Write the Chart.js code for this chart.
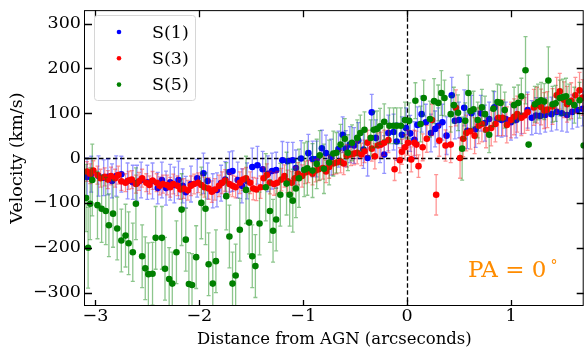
<!DOCTYPE html>
<html>
<head>
<meta charset="utf-8">
<script src="https://cdn.jsdelivr.net/npm/chart.js@4.4.0/dist/chart.umd.min.js"></script>
<style>
  html, body { margin: 0; padding: 0; background: #fff; }
  #wrap { width: 587px; height: 353px; }
</style>
</head>
<body>
<div id="wrap"><canvas id="velChart" width="587" height="353"></canvas></div>
<script>
  /**************Data**************/
  let seriesNames = ['S(1)', 'S(3)', 'S(5)'];
  let xTicks = [-3, -2, -1, 0, 1];
  let yTicks = [-300, -200, -100, 0, 100, 200, 300];

  // S(1)
  let s1X = [-3.08,-3.04,-2.97,-2.92,-2.88,-2.84,-2.80,-2.75,-2.69,-2.64,
             -2.60,-2.56,-2.50,-2.45,-2.40,-2.36,-2.32,-2.28,-2.24,-2.20,
             -2.16,-2.13,-2.08,-2.02,-1.96,-1.92,-1.87,-1.83,-1.79,-1.75,
             -1.71,-1.68,-1.63,-1.59,-1.54,-1.49,-1.44,-1.39,-1.34,-1.30,
             -1.26,-1.20,-1.15,-1.10,-1.07,-1.02,-0.95,-0.91,-0.87,-0.82,
             -0.78,-0.73,-0.66,-0.62,-0.59,-0.55,-0.51,-0.47,-0.42,-0.38,
             -0.34,-0.30,-0.26,-0.22,-0.18,-0.13,-0.10,-0.05,-0.01,0.03,
             0.07,0.10,0.14,0.18,0.23,0.27,0.30,0.34,0.38,0.43,
             0.46,0.50,0.55,0.58,0.62,0.66,0.71,0.75,0.79,0.84,
             0.87,0.91,0.95,1.00,1.05,1.10,1.16,1.20,1.24,1.28,
             1.33,1.39,1.44,1.49,1.54,1.59,1.64,1.69];
  let s1Y = [-42,-36,-40,-44,-42,-51,-40,-36,-51,-54,
             -56,-49,-54,-51,-67,-49,-67,-54,-60,-49,
             -62,-76,-58,-45,-34,-51,-73,-71,-56,-48,
             -31,-29,-49,-62,-51,-20,-16,-25,-35,-29,
             -27,-5,-7,-5,-22,-1,11,-2,-2,22,
             11,2,20,52,21,30,28,39,19,0,
             102,45,30,8,56,58,37,52,67,55,
             41,74,98,80,56,65,72,80,50,140,
             83,85,112,61,100,64,100,78,87,113,
             87,85,87,80,85,94,107,90,95,94,
             96,98,103,100,96,103,107,110];
  let s1Err = [42,40,45,40,40,38,45,40,40,38,
               40,40,38,40,35,40,38,40,40,42,
               38,35,40,42,45,40,38,38,40,40,
               45,45,40,38,40,42,42,40,40,40,
               40,42,42,40,40,40,42,40,40,40,
               40,40,40,40,40,40,40,40,42,40,
               40,40,40,42,40,40,42,40,45,40,
               40,40,40,40,42,40,40,40,42,40,
               40,40,40,40,40,40,40,40,38,35,
               38,38,38,40,40,40,40,38,40,40,
               38,38,40,40,38,38,38,38];

  // S(3)
  let s3X = [-3.08,-3.05,-3.02,-2.98,-2.95,-2.91,-2.88,-2.85,-2.81,-2.78,
             -2.75,-2.71,-2.68,-2.65,-2.61,-2.58,-2.55,-2.51,-2.48,-2.45,
             -2.41,-2.38,-2.35,-2.31,-2.28,-2.25,-2.21,-2.18,-2.15,-2.11,
             -2.08,-2.05,-2.01,-1.98,-1.95,-1.91,-1.88,-1.85,-1.81,-1.78,
             -1.75,-1.71,-1.68,-1.65,-1.61,-1.58,-1.55,-1.51,-1.48,-1.45,
             -1.41,-1.38,-1.35,-1.32,-1.28,-1.25,-1.21,-1.18,-1.15,-1.11,
             -1.08,-1.05,-1.01,-0.98,-0.95,-0.91,-0.88,-0.85,-0.81,-0.78,
             -0.75,-0.71,-0.68,-0.64,-0.61,-0.58,-0.54,-0.51,-0.48,-0.44,
             -0.41,-0.38,-0.34,-0.31,-0.28,-0.25,-0.22,-0.18,-0.12,-0.07,
             -0.05,-0.02,0.01,0.04,0.07,0.09,0.11,0.15,0.19,0.24,
             0.28,0.31,0.37,0.42,0.47,0.51,0.54,0.57,0.61,0.65,
             0.69,0.72,0.76,0.81,0.85,0.88,0.92,0.96,1.00,1.03,
             1.06,1.10,1.13,1.16,1.22,1.25,1.29,1.32,1.35,1.40,
             1.44,1.47,1.51,1.54,1.58,1.62,1.66,1.69];
  let s3Y = [-30,-35,-28,-38,-45,-42,-48,-40,-45,-38,
             -52,-55,-50,-48,-58,-52,-45,-55,-60,-50,
             -55,-62,-58,-60,-65,-58,-62,-70,-68,-72,
             -62,-58,-55,-60,-65,-68,-75,-70,-62,-55,
             -50,-58,-62,-65,-55,-48,-45,-55,-68,-70,
             -65,-45,-38,-55,-58,-55,-48,-40,-52,-55,
             -45,-35,-40,-32,-30,-35,-28,-25,-22,-30,
             -20,-12,-10,-8,-12,5,8,10,12,8,
             15,34,21,4,28,30,34,40,-25,-5,
             14,24,34,-3,34,30,-18,24,43,85,
             -82,39,28,30,112,0,43,56,60,50,
             72,76,63,67,76,90,90,74,85,92,
             98,90,95,102,113,118,114,106,108,115,
             140,149,130,120,128,140,151,135];
  let s3Err = [22,22,22,20,20,20,20,20,20,20,
               20,20,20,20,20,20,20,20,20,20,
               20,20,20,22,22,22,22,22,22,22,
               22,22,22,22,22,24,24,24,24,24,
               24,24,24,24,24,24,24,24,25,25,
               25,25,25,25,25,25,25,25,25,25,
               25,25,25,25,25,25,25,25,25,25,
               25,25,25,25,25,25,25,25,25,25,
               25,28,28,28,28,28,28,28,25,28,
               28,28,28,28,28,30,25,30,30,35,
               45,35,35,40,40,45,40,40,40,40,
               40,40,40,40,40,40,40,40,40,40,
               40,40,40,40,40,40,40,40,40,40,
               40,40,40,40,40,40,40,40];

  // S(5)
  let s5X = [-3.09,-3.07,-3.05,-3.03,-2.98,-2.94,-2.90,-2.87,-2.83,-2.79,
             -2.75,-2.71,-2.68,-2.64,-2.61,-2.55,-2.52,-2.49,-2.45,-2.42,
             -2.36,-2.33,-2.29,-2.26,-2.22,-2.17,-2.13,-2.10,-2.07,-2.03,
             -1.98,-1.94,-1.91,-1.87,-1.84,-1.74,-1.71,-1.68,-1.65,-1.61,
             -1.55,-1.52,-1.49,-1.46,-1.42,-1.36,-1.32,-1.29,-1.26,-1.22,
             -1.16,-1.13,-1.10,-1.07,-1.04,-0.99,-0.96,-0.91,-0.87,-0.84,
             -0.80,-0.75,-0.71,-0.68,-0.64,-0.60,-0.57,-0.53,-0.48,-0.45,
             -0.41,-0.35,-0.32,-0.29,-0.26,-0.22,-0.17,-0.13,-0.10,-0.06,
             -0.02,0.02,0.08,0.13,0.16,0.22,0.26,0.30,0.33,0.36,
             0.42,0.45,0.49,0.53,0.56,0.59,0.61,0.64,0.68,0.72,
             0.75,0.79,0.83,0.87,0.90,0.94,1.03,1.07,1.10,1.14,
             1.17,1.23,1.26,1.29,1.32,1.36,1.40,1.43,1.47,1.50,
             1.53,1.56,1.61,1.66,1.70];
  let s5Y = [-89,-200,-102,-49,-105,-113,-118,-150,-124,-157,
             -184,-173,-190,-210,-102,-219,-246,-259,-258,-178,
             -178,-247,-270,-280,-210,-115,-182,-281,-283,-221,
             -100,-113,-237,-280,-230,-85,-175,-280,-262,-160,
             -71,-144,-219,-241,-146,-65,-118,-162,-137,-82,
             -57,-82,-95,-68,-45,-26,-23,-28,-13,6,
             -24,-10,10,12,30,43,12,34,45,56,
             63,45,63,65,71,81,72,72,72,72,
             85,83,128,76,134,87,127,123,145,134,
             98,118,101,21,83,145,105,109,85,113,
             98,52,110,125,123,107,118,123,138,196,
             30,120,125,129,126,173,120,122,134,136,
             138,125,118,129,28];
  let s5Err = [75,90,80,80,75,75,75,70,75,70,
               70,70,70,65,80,70,70,70,70,70,
               70,70,70,70,70,80,70,70,70,70,
               80,80,70,70,70,75,70,70,70,70,
               75,70,70,70,70,75,70,70,70,70,
               70,70,70,65,65,60,60,60,55,55,
               55,50,50,45,45,45,40,40,40,40,
               40,40,40,40,40,40,40,40,40,40,
               40,40,40,40,40,40,50,40,50,40,
               40,40,40,70,40,40,40,40,40,40,
               40,40,40,40,40,40,40,40,40,75,
               4,40,40,40,40,75,40,40,40,40,
               40,40,40,40,4];

  let seriesColors = ['#0000ff', '#ff0000', '#008000'];
  let errColors = ['rgba(0,0,255,0.42)', 'rgba(255,0,0,0.42)', 'rgba(0,128,0,0.45)'];

  function toPoints(xs, ys, errs) {
    return xs.map((x, i) => ({ x: x, y: ys[i], err: errs[i] }));
  }

  const serif = '"DejaVu Serif", "Liberation Serif", serif';
  Chart.defaults.color = '#000';
  Chart.defaults.font.family = serif;

  /**************Error bars, drawn under each dataset's markers**************/
  const errorBars = {
    id: 'errorBars',
    beforeDatasetDraw(chart, args) {
      const ds = chart.data.datasets[args.index];
      const xs = chart.scales.x, ys = chart.scales.y;
      const a = chart.chartArea;
      const ctx = chart.ctx;
      ctx.save();
      ctx.beginPath();
      ctx.rect(a.left, a.top, a.right - a.left, a.bottom - a.top);
      ctx.clip();
      ctx.strokeStyle = ds.errColor;
      ctx.lineWidth = 1.3;
      ds.data.forEach(p => {
        const px = xs.getPixelForValue(p.x);
        const top = ys.getPixelForValue(p.y + p.err);
        const bot = ys.getPixelForValue(p.y - p.err);
        ctx.beginPath();
        ctx.moveTo(px, top); ctx.lineTo(px, bot);
        ctx.moveTo(px - 2, top); ctx.lineTo(px + 2, top);
        ctx.moveTo(px - 2, bot); ctx.lineTo(px + 2, bot);
        ctx.stroke();
      });
      ctx.restore();
    }
  };

  /**************Zero lines, frame, ticks, legend, label**************/
  const decorations = {
    id: 'decorations',
    beforeDatasetsDraw(chart) {
      const {ctx, chartArea: a, scales: {x, y}} = chart;
      const x0 = Math.round(x.getPixelForValue(0)) + 0.5;
      const y0 = Math.round(y.getPixelForValue(0)) + 0.5;
      ctx.save();
      ctx.strokeStyle = '#000';
      ctx.lineWidth = 1.3;
      ctx.setLineDash([4.5, 2.5]);
      ctx.beginPath();
      ctx.moveTo(a.left, y0); ctx.lineTo(a.right, y0);
      ctx.moveTo(x0, a.top); ctx.lineTo(x0, a.bottom);
      ctx.stroke();
      ctx.restore();
    },
    afterDraw(chart) {
      const {ctx, chartArea: a, scales: {x, y}} = chart;
      ctx.save();
      ctx.strokeStyle = '#000';
      ctx.lineWidth = 1;
      ctx.strokeRect(a.left - 0.5, a.top + 0.5, a.right - a.left, a.bottom - a.top - 1);
      ctx.beginPath();
      xTicks.forEach(v => {
        const px = Math.round(x.getPixelForValue(v)) + 0.5;
        ctx.moveTo(px, a.bottom); ctx.lineTo(px, a.bottom - 6);
        ctx.moveTo(px, a.top); ctx.lineTo(px, a.top + 7);
      });
      yTicks.forEach(v => {
        const py = Math.round(y.getPixelForValue(v)) + 0.5;
        ctx.moveTo(a.left, py); ctx.lineTo(a.left + 7, py);
        ctx.moveTo(a.right, py); ctx.lineTo(a.right - 7, py);
      });
      ctx.lineWidth = 1.3;
      ctx.stroke();

      // legend
      ctx.beginPath();
      ctx.roundRect(94.5, 15.5, 101, 85, 3);
      ctx.fillStyle = 'rgba(255,255,255,0.85)';
      ctx.fill();
      ctx.strokeStyle = '#d6d6d6';
      ctx.lineWidth = 1;
      ctx.stroke();
      ctx.font = '17.5px ' + serif;
      ctx.textBaseline = 'middle';
      ctx.textAlign = 'left';
      seriesNames.forEach((name, i) => {
        const ly = 32 + i * 26.3;
        ctx.beginPath();
        ctx.arc(119, ly, 2.3, 0, Math.PI * 2);
        ctx.fillStyle = seriesColors[i];
        ctx.fill();
        ctx.fillStyle = '#000';
        ctx.fillText(name, 152, ly + 1);
      });

      // position angle label
      ctx.fillStyle = '#ff8c00';
      ctx.textBaseline = 'alphabetic';
      ctx.font = '23px ' + serif;
      ctx.fillText('PA = 0', 468, 277);
      const w = ctx.measureText('PA = 0').width;
      ctx.font = '14px ' + serif;
      ctx.fillText('\u00b0', 468 + w + 4, 270);
      ctx.restore();
    }
  };

  const minusLabel = v => String(v).replace('-', '\u2212');

  var ctx = document.getElementById('velChart').getContext('2d');
  var velChart = new Chart(ctx, {
    type: 'scatter',
    data: {
      datasets: [
        { label: seriesNames[0], data: toPoints(s1X, s1Y, s1Err), order: 3,
          backgroundColor: seriesColors[0], borderColor: seriesColors[0], errColor: errColors[0] },
        { label: seriesNames[1], data: toPoints(s3X, s3Y, s3Err), order: 2,
          backgroundColor: seriesColors[1], borderColor: seriesColors[1], errColor: errColors[1] },
        { label: seriesNames[2], data: toPoints(s5X, s5Y, s5Err), order: 1,
          backgroundColor: seriesColors[2], borderColor: seriesColors[2], errColor: errColors[2] }
      ]
    },
    options: {
      responsive: false,
      animation: false,
      layout: { padding: { top: 6, right: 1, left: 0, bottom: 0 } },
      elements: { point: { radius: 3.3, borderWidth: 0, hoverRadius: 3.3 } },
      plugins: { legend: { display: false }, tooltip: { enabled: false } },
      scales: {
        x: {
          type: 'linear', min: -3.1, max: 1.7,
          afterBuildTicks: axis => { axis.ticks = xTicks.map(v => ({ value: v })); },
          afterFit: axis => { axis.height = 47; },
          grid: { display: false, drawTicks: false },
          border: { display: false },
          ticks: { padding: 2, font: { size: 17.5, lineHeight: 1 }, callback: minusLabel, maxRotation: 0 },
          title: { display: true, text: 'Distance from AGN (arcseconds)', font: { size: 16.5 }, padding: { top: 0, bottom: 3 } }
        },
        y: {
          type: 'linear', min: -330, max: 330,
          afterBuildTicks: axis => { axis.ticks = yTicks.map(v => ({ value: v })); },
          afterFit: axis => { axis.width = 85; },
          grid: { display: false, drawTicks: false },
          border: { display: false },
          ticks: { padding: 4, font: { size: 17.5, lineHeight: 0.7 }, callback: minusLabel },
          title: { display: true, text: 'Velocity (km/s)', font: { size: 17.5 }, padding: { top: 7, bottom: 0 } }
        }
      }
    },
    plugins: [errorBars, decorations]
  });
</script>
</body>
</html>
